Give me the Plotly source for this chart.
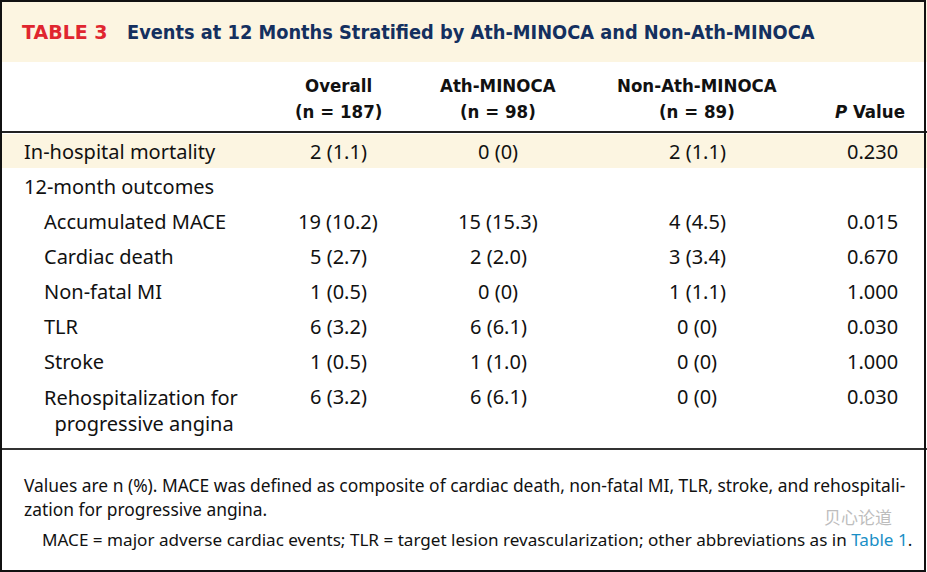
import plotly.graph_objects as go

W, H = 927, 572

title_tag = "TABLE 3"
title_text = "Events at 12 Months Stratified by Ath-MINOCA and Non-Ath-MINOCA"
col_names = ["Overall", "Ath-MINOCA", "Non-Ath-MINOCA"]
col_n = ["(n = 187)", "(n = 98)", "(n = 89)"]
pval_header = "<i>P</i> Value"

row_labels = ["In-hospital mortality", "12-month outcomes", "Accumulated MACE", "Cardiac death",
              "Non-fatal MI", "TLR", "Stroke", "Rehospitalization for<br>&nbsp;&nbsp;progressive angina"]
row_indent = [0, 0, 1, 1, 1, 1, 1, 1]
overall = ["2 (1.1)", "", "19 (10.2)", "5 (2.7)", "1 (0.5)", "6 (3.2)", "1 (0.5)", "6 (3.2)"]
ath = ["0 (0)", "", "15 (15.3)", "2 (2.0)", "0 (0)", "6 (6.1)", "1 (1.0)", "6 (6.1)"]
nonath = ["2 (1.1)", "", "4 (4.5)", "3 (3.4)", "1 (1.1)", "0 (0)", "0 (0)", "0 (0)"]
pvals = ["0.230", "", "0.015", "0.670", "1.000", "0.030", "1.000", "0.030"]

foot1 = "Values are n (%). MACE was defined as composite of cardiac death, non-fatal MI, TLR, stroke, and rehospitali-"
foot2 = "zation for progressive angina."
foot3 = ("MACE = major adverse cardiac events; TLR = target lesion revascularization; other abbreviations as in "
         "<span style='color:#1a8fc6'>Table 1</span>.")
watermark = "贝心论道"

BODY = "Noto Sans"
HEAD = "DejaVu Sans Condensed"
CREAM = "#fcf5e1"
NAVY = "#14305f"
RED = "#e0262f"

fig = go.Figure()
shapes = []
ann = []

# backgrounds
shapes.append(dict(type="rect", x0=0, x1=W, y0=0, y1=62, fillcolor=CREAM, line_width=0, layer="below"))
shapes.append(dict(type="rect", x0=0, x1=W, y0=134, y1=168, fillcolor=CREAM, line_width=0, layer="below"))
# lines
shapes.append(dict(type="line", x0=0, x1=W, y0=132, y1=132, line=dict(color="#222", width=2)))
shapes.append(dict(type="line", x0=0, x1=W, y0=449, y1=449, line=dict(color="#333", width=2)))
shapes.append(dict(type="rect", x0=1, x1=W - 2, y0=1, y1=H - 1, line=dict(color="#111", width=2)))

# title
ann.append(dict(x=20, y=32, text="<b>" + title_tag + "</b>", xanchor="left", yanchor="middle",
                font=dict(family="DejaVu Sans", size=19, color=RED)))
ann.append(dict(x=125, y=32, text="<b>" + title_text + "</b>", xanchor="left", yanchor="middle",
                font=dict(family=HEAD, size=19.8, color=NAVY)))

# header
col_x = [338, 498, 697]
for cx, nm, nn in zip(col_x, col_names, col_n):
    ann.append(dict(x=cx, y=85, text="<b>" + nm + "</b>", xanchor="center", yanchor="middle",
                    font=dict(family=HEAD, size=18.5, color="#111")))
    ann.append(dict(x=cx, y=111, text="<b>" + nn + "</b>", xanchor="center", yanchor="middle",
                    font=dict(family=HEAD, size=18.5, color="#111")))
ann.append(dict(x=907, y=111, text="<b>" + pval_header + "</b>", xanchor="right", yanchor="middle",
                font=dict(family=HEAD, size=18.5, color="#111")))

# body rows
row_y0, row_dy = 151, 35
for i, lab in enumerate(row_labels):
    y = row_y0 + i * row_dy
    x = 22 if row_indent[i] == 0 else 42
    yanchor = "middle"
    ytxt = y
    if "<br>" in lab:
        yanchor = "top"
        ytxt = y - 14
    ann.append(dict(x=x, y=ytxt, text=lab, xanchor="left", yanchor=yanchor, align="left",
                    font=dict(family=BODY, size=20, color="#111")))
    for cx, vals in zip(col_x, [overall, ath, nonath]):
        if vals[i]:
            ann.append(dict(x=cx, y=y, text=vals[i], xanchor="center", yanchor="middle",
                            font=dict(family=BODY, size=20, color="#111")))
    if pvals[i]:
        ann.append(dict(x=900, y=y, text=pvals[i], xanchor="right", yanchor="middle",
                        font=dict(family=BODY, size=20, color="#111")))

# footer
ann.append(dict(x=22, y=485, text=foot1, xanchor="left", yanchor="middle",
                font=dict(family=BODY, size=17.4, color="#111")))
ann.append(dict(x=22, y=509, text=foot2, xanchor="left", yanchor="middle",
                font=dict(family=BODY, size=17.4, color="#111")))
ann.append(dict(x=40, y=539, text=foot3, xanchor="left", yanchor="middle",
                font=dict(family=BODY, size=17.1, color="#111")))
# watermark
ann.append(dict(x=858, y=516, text=watermark, xanchor="center", yanchor="middle", opacity=0.55,
                font=dict(family="Noto Sans CJK SC", size=17, color="#888")))

for a in ann:
    a.update(xref="x", yref="y", showarrow=False)

fig.update_layout(
    width=W, height=H, margin=dict(l=0, r=0, t=0, b=0),
    paper_bgcolor="white", plot_bgcolor="white",
    xaxis=dict(range=[0, W], visible=False, fixedrange=True),
    yaxis=dict(range=[H, 0], visible=False, fixedrange=True),
    shapes=shapes, annotations=ann, showlegend=False,
)
fig.write_html("out.html", config={"displayModeBar": False},
               post_script="document.body.style.margin='0px';document.body.style.overflow='hidden';")
